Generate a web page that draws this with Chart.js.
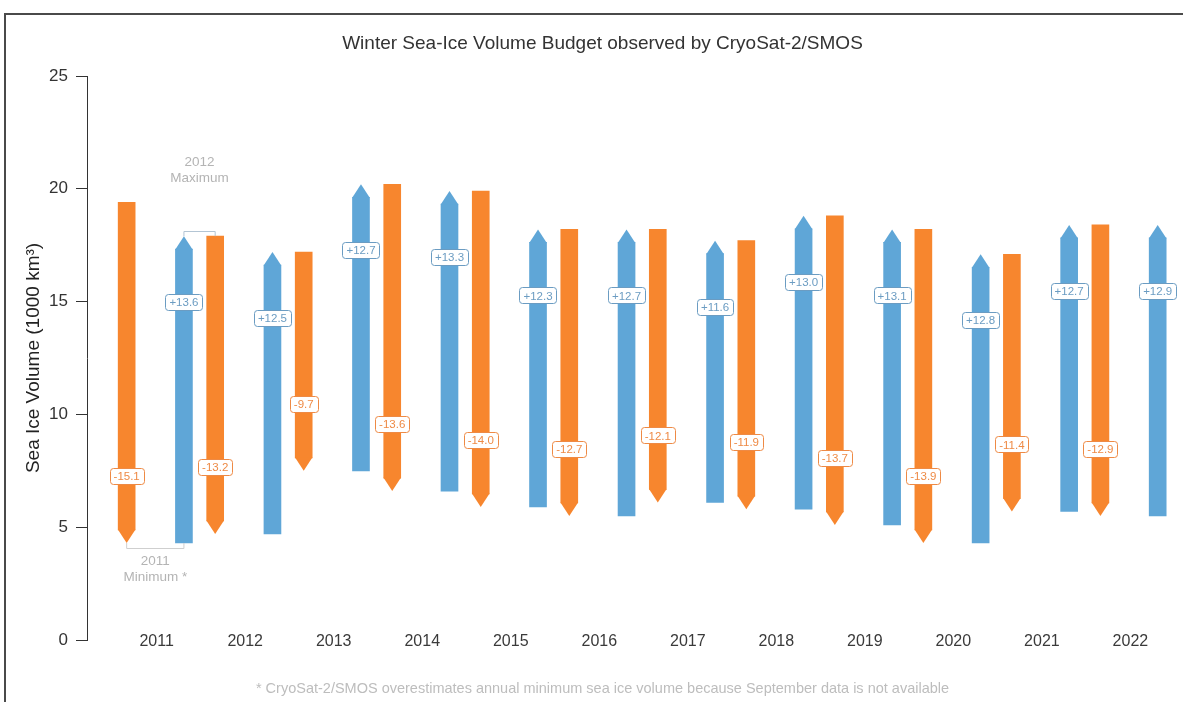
<!DOCTYPE html>
<html>
<head>
<meta charset="utf-8">
<title>Winter Sea-Ice Volume Budget</title>
<script src="https://cdn.jsdelivr.net/npm/chart.js@4.4.1/dist/chart.umd.min.js"></script>
<style>
  html, body { margin: 0; padding: 0; background: #fff; }
  #wrap { position: relative; width: 1183px; height: 702px; overflow: hidden; }
  #frame { position: absolute; left: 4px; top: 13px; width: 1300px; height: 800px;
           border-left: 2px solid #4a4a4a; border-top: 2px solid #4a4a4a; }
  #chart { position: absolute; left: 0; top: 0; }
</style>
</head>
<body>
<div id="wrap">
  <div id="frame"></div>
  <canvas id="chart" width="1183" height="702"></canvas>
</div>
<script>
// Data (1000 km3)
const years = [2011, 2012, 2013, 2014, 2015, 2016, 2017, 2018, 2019, 2020, 2021, 2022];
const yearLabels = ['2011', '2012', '2013', '2014', '2015', '2016', '2017', '2018', '2019', '2020', '2021', '2022'];
// spring maximum 2011..2023 and autumn minimum 2011..2022
const maxima = [19.4, 17.9, 17.2, 20.2, 19.9, 18.2, 18.2, 17.7, 18.8, 18.2, 17.1, 18.4, 18.4];
const minima = [4.3, 4.7, 7.5, 6.6, 5.9, 5.5, 6.1, 5.8, 5.1, 4.3, 5.7, 5.5];
const meltText = ['-15.1', '-13.2', '-9.7', '-13.6', '-14.0', '-12.7', '-12.1', '-11.9', '-13.7', '-13.9', '-11.4', '-12.9'];
const growthText = ['+13.6', '+12.5', '+12.7', '+13.3', '+12.3', '+12.7', '+11.6', '+13.0', '+13.1', '+12.8', '+12.7', '+12.9'];

const maxNote = ['2012', 'Maximum'];
const minNote = ['2011', 'Minimum *'];
const footnote = '* CryoSat-2/SMOS overestimates annual minimum sea ice volume because September data is not available';

const BLUE = '#5fa6d7';
const ORANGE = '#f7862e';
const FONT = "'Liberation Sans', Arial, sans-serif";
const HEAD = 13; // arrow head length in px

Chart.defaults.font.family = FONT;

// cut the bars short and put a pointed head on them
const arrowHeads = {
  id: 'arrowHeads',
  afterDatasetsUpdate(chart) {
    chart.data.datasets.forEach((ds, i) => {
      chart.getDatasetMeta(i).data.forEach(bar => {
        if (ds.arrow === 'up') { bar.tip = bar.y; bar.y += HEAD; }
        else { bar.tip = bar.base; bar.base -= HEAD; }
      });
    });
  },
  afterDatasetsDraw(chart) {
    const ctx = chart.ctx;
    chart.data.datasets.forEach((ds, i) => {
      const dir = ds.arrow === 'up' ? 1 : -1;
      ctx.save();
      ctx.fillStyle = ds.backgroundColor;
      chart.getDatasetMeta(i).data.forEach(bar => {
        const half = bar.width / 2 + 0.3;
        const start = (dir === 1 ? bar.y : bar.base) + dir * 0.5;
        ctx.beginPath();
        ctx.moveTo(bar.x - half, start);
        ctx.lineTo(bar.x, bar.tip);
        ctx.lineTo(bar.x + half, start);
        ctx.closePath();
        ctx.fill();
      });
      ctx.restore();
    });
  }
};

// boxed numbers on each bar
const changeLabels = {
  id: 'changeLabels',
  afterDatasetsDraw(chart) {
    const ctx = chart.ctx;
    ctx.save();
    ctx.font = '11.5px ' + FONT;
    ctx.textAlign = 'center';
    ctx.textBaseline = 'middle';
    chart.data.datasets.forEach((ds, i) => {
      chart.getDatasetMeta(i).data.forEach((bar, j) => {
        const text = ds.changes[j];
        const cy = bar.tip + (ds.arrow === 'up' ? 66 : -67);
        const w = ctx.measureText(text).width + 8;
        const h = 16;
        ctx.beginPath();
        ctx.roundRect(Math.round(bar.x - w / 2) + 0.5, Math.round(cy - h / 2) + 0.5, Math.round(w), h, 3);
        ctx.fillStyle = '#fff';
        ctx.fill();
        ctx.lineWidth = 1;
        ctx.strokeStyle = ds.labelColor;
        ctx.stroke();
        ctx.fillStyle = ds.labelColor;
        ctx.fillText(text, bar.x, cy + 1);
      });
    });
    ctx.restore();
  }
};

// brackets for the 2012 maximum and 2011 minimum
const extremes = {
  id: 'extremes',
  afterDatasetsDraw(chart) {
    const ctx = chart.ctx;
    const melt = chart.getDatasetMeta(0).data;
    const grow = chart.getDatasetMeta(1).data;
    ctx.save();
    ctx.lineWidth = 1;
    ctx.font = '13.5px ' + FONT;
    ctx.textAlign = 'center';
    ctx.textBaseline = 'middle';

    // maximum
    let a = grow[0], b = melt[1];
    let yb = Math.round(Math.min(a.tip, b.y) - 5) + 0.5;
    ctx.strokeStyle = '#b3c5d4';
    ctx.beginPath();
    ctx.moveTo(a.x, a.tip); ctx.lineTo(a.x, yb); ctx.lineTo(b.x, yb); ctx.lineTo(b.x, b.y);
    ctx.stroke();
    ctx.fillStyle = '#b4b4b4';
    ctx.fillText(maxNote[0], (a.x + b.x) / 2, yb - 69);
    ctx.fillText(maxNote[1], (a.x + b.x) / 2, yb - 53);

    // minimum
    a = melt[0]; b = grow[0];
    yb = Math.round(Math.max(a.tip, b.base) + 5) + 0.5;
    ctx.strokeStyle = '#cfcfcf';
    ctx.beginPath();
    ctx.moveTo(a.x, a.tip); ctx.lineTo(a.x, yb); ctx.lineTo(b.x, yb); ctx.lineTo(b.x, b.base);
    ctx.stroke();
    ctx.fillText(minNote[0], (a.x + b.x) / 2, yb + 13);
    ctx.fillText(minNote[1], (a.x + b.x) / 2, yb + 29);
    ctx.restore();
  }
};

const chart = new Chart(document.getElementById('chart'), {
  type: 'bar',
  data: {
    datasets: [
      {
        label: 'Melt',
        arrow: 'down',
        changes: meltText,
        labelColor: '#ee8a45',
        data: years.map((y, i) => ({ x: y - 0.339, y: [maxima[i], minima[i]] })),
        backgroundColor: ORANGE,
        barThickness: 17,
        grouped: false
      },
      {
        label: 'Growth',
        arrow: 'up',
        changes: growthText,
        labelColor: '#6b9cc2',
        data: years.map((y, i) => ({ x: y + 0.308, y: [minima[i], maxima[i + 1]] })),
        backgroundColor: BLUE,
        barThickness: 17,
        grouped: false
      }
    ]
  },
  options: {
    responsive: false,
    animation: false,
    layout: { padding: { left: 22, right: 0, top: 0, bottom: 0 } },
    plugins: {
      legend: { display: false },
      tooltip: { enabled: false },
      title: {
        display: true,
        text: 'Winter Sea-Ice Volume Budget observed by CryoSat-2/SMOS',
        color: '#333',
        font: { size: 19, weight: 'normal' },
        padding: { top: 32, bottom: 21.2 }
      },
      subtitle: {
        display: true,
        position: 'bottom',
        text: footnote,
        color: '#bdbdbd',
        font: { size: 14.5 },
        padding: { top: 30.3, bottom: 4.3 }
      }
    },
    scales: {
      x: {
        type: 'linear',
        offset: false,
        min: 2010.213,
        max: 2022.594,
        grid: { display: false, drawTicks: false },
        border: { display: false },
        afterBuildTicks: s => { s.ticks = years.map(v => ({ value: v })); },
        afterFit: s => { s.height = 10; },
        ticks: {
          color: '#3a3a3a',
          font: { size: 16 },
          mirror: true,
          padding: -11,
          maxRotation: 0,
          autoSkip: false,
          callback: (v, i) => yearLabels[i]
        }
      },
      y: {
        min: 0,
        max: 25,
        afterFit: s => { s.width = 65; },
        ticks: { stepSize: 5, color: '#333', font: { size: 17 }, padding: 8 },
        grid: { drawOnChartArea: false, tickLength: 11, color: '#333' },
        border: { color: '#333', width: 1 },
        title: {
          display: true,
          text: 'Sea Ice Volume (1000 km³)',
          color: '#222',
          font: { size: 19 },
          padding: 0
        }
      }
    }
  },
  plugins: [arrowHeads, changeLabels, extremes]
});
</script>
</body>
</html>
